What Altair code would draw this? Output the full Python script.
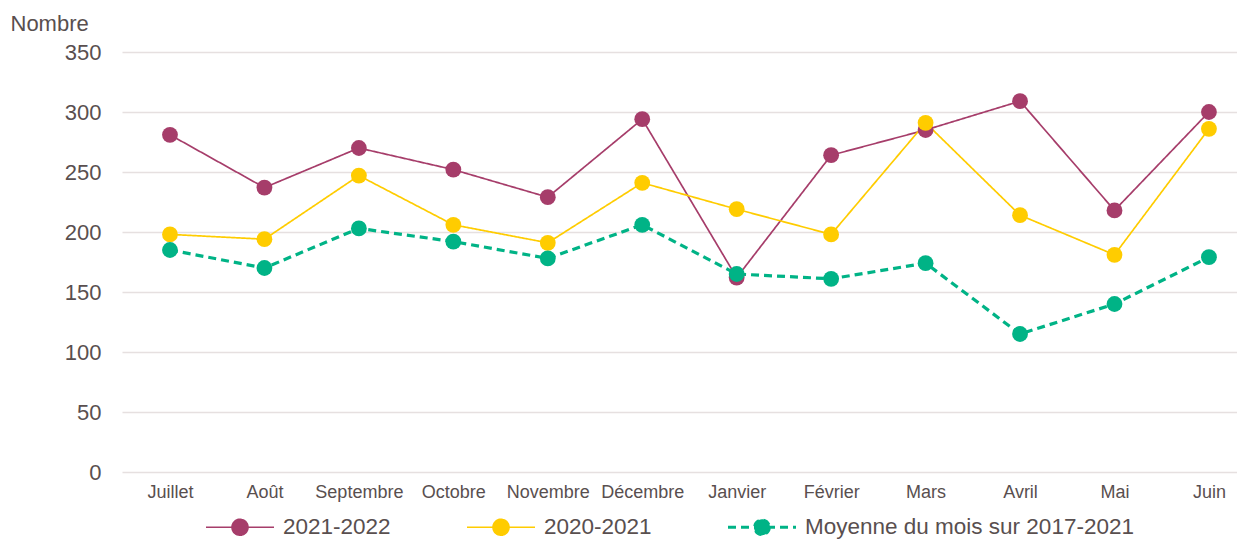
import altair as alt
import pandas as pd

months = ["Juillet", "Août", "Septembre", "Octobre", "Novembre", "Décembre",
          "Janvier", "Février", "Mars", "Avril", "Mai", "Juin"]
s_2021_2022 = [281, 237, 270, 252, 229, 294, 162, 264, 285, 309, 218, 300]
s_2020_2021 = [198, 194, 247, 206, 191, 241, 219, 198, 291, 214, 181, 286]
s_moyenne = [185, 170, 203, 192, 178, 206, 165, 161, 174, 115, 140, 179]
series_names = ["2021-2022", "2020-2021", "Moyenne du mois sur 2017-2021"]
series_colors = ["#A63D6A", "#FFCC00", "#00B386"]
y_ticks = [0, 50, 100, 150, 200, 250, 300, 350]

rows = []
for name, vals in zip(series_names, [s_2021_2022, s_2020_2021, s_moyenne]):
    for m, v in zip(months, vals):
        rows.append({"mois": m, "valeur": v, "serie": name})
df = pd.DataFrame(rows)

FONT = "Arial, Liberation Sans, sans-serif"
TXT = "#594F4F"
AVG = series_names[2]

r = 0.235
circle = f"M{r},0A{r},{r} 0 1 1 -{r},0A{r},{r} 0 1 1 {r},0Z"
path_thin = "M-1,0L1,0" + circle
path_thick = "M-1,-0.02L1,-0.02M-1,0.02L1,0.02" + circle
symbol_expr = f"datum.value == '{AVG}' ? '{path_thick}' : '{path_thin}'"

chart = alt.Chart(df).mark_line(
    point=alt.OverlayMarkDef(filled=True, size=250, opacity=1)
).encode(
    x=alt.X("mois:N", sort=months,
            scale=alt.Scale(padding=0.4025, align=0.631),
            axis=alt.Axis(title=None, labelAngle=0, labelFontSize=18,
                          labelColor=TXT, labelFont=FONT, ticks=False,
                          domain=False, labelPadding=11, grid=False)),
    y=alt.Y("valeur:Q", scale=alt.Scale(domain=[0, 350], nice=False),
            axis=alt.Axis(values=y_ticks, title="Nombre", titleAngle=0,
                          titleAlign="left", titleBaseline="middle",
                          titleX=-112, titleY=-29, titleFontSize=22,
                          titleFontWeight="normal", titleColor=TXT,
                          titleFont=FONT, labelFontSize=22, labelColor=TXT,
                          labelFont=FONT, labelPadding=21, ticks=False,
                          domain=False, gridColor="#E6E0E0", gridWidth=1.5)),
    color=alt.Color("serie:N", sort=series_names,
                    scale=alt.Scale(domain=series_names, range=series_colors),
                    legend=alt.Legend(
                        title=None, orient="none", direction="horizontal",
                        legendX=83, legendY=440, padding=0,
                        symbolType={"expr": symbol_expr}, symbolSize=4624,
                        symbolFillColor={"expr": "scale('color', datum.value)"},
                        symbolStrokeWidth=1.6,
                        symbolOpacity=1, labelLimit=500,
                        labelFontSize=22.5, labelColor=TXT, labelFont=FONT,
                        labelOffset=8, columnPadding=72)),
    strokeDash=alt.StrokeDash("serie:N", sort=series_names,
                              scale=alt.Scale(domain=series_names,
                                              range=[[1, 0], [1, 0], [8, 5]])),
    strokeWidth=alt.condition(f"datum.serie == '{AVG}'",
                              alt.value(3.2), alt.value(1.7)),
).properties(
    width=1115, height=420,
    autosize=alt.AutoSizeParams(type="none"),
    padding={"left": 114, "top": 44, "right": 0, "bottom": 69},
    background="white",
).configure_view(stroke="transparent", strokeWidth=0)

chart.save("out.html", embed_options={"renderer": "svg", "actions": False})
